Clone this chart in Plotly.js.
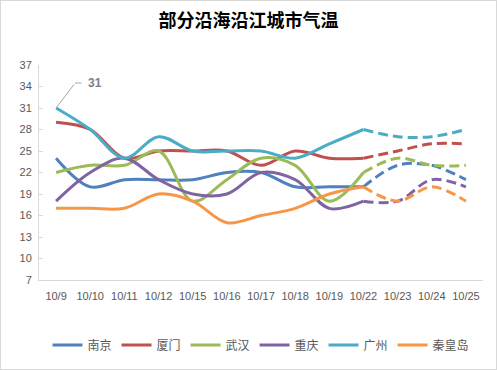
<!DOCTYPE html>
<html>
<head>
<meta charset="utf-8">
<script src="https://cdn.plot.ly/plotly-3.0.1.min.js"></script>
<style>
  html, body { margin: 0; padding: 0; background: #fff; }
  #wrap { position: relative; width: 497px; height: 370px; }
  #chart { width: 497px; height: 370px; }
  #frame { position: absolute; left: 0; top: 0; width: 495px; height: 368px; border: 1px solid #d9d9d9; pointer-events: none; }
</style>
</head>
<body>
<div id="wrap"><div id="chart"></div><div id="frame"></div></div>
<script>
const dates = ['10/9','10/10','10/11','10/12','10/15','10/16','10/17','10/18','10/19','10/22','10/23','10/24','10/25'];
const cities = ['南京','厦门','武汉','重庆','广州','秦皇岛'];
const nanjing     = [24, 20, 21, 21, 21, 22, 22, 20, 20, 20, 23, 23, 21];
const xiamen      = [29, 28, 24, 25, 25, 25, 23, 25, 24, 24, 25, 26, 26];
const wuhan       = [22, 23, 23, 25, 18, 21, 24, 23, 18, 22, 24, 23, 23];
const chongqing   = [18, 22, 24, 21, 19, 19, 22, 21, 17, 18, 18, 21, 20];
const guangzhou   = [31, 28, 24, 27, 25, 25, 25, 24, 26, 28, 27, 27, 28];
const qinhuangdao = [17, 17, 17, 19, 18, 15, 16, 17, 19, 20, 18, 20, 18];
const forecastStart = 9; // index of 10/22: dashed from here on
const yTicks = [7, 10, 13, 16, 19, 22, 25, 28, 31, 34, 37];

const series = [nanjing, xiamen, wuhan, chongqing, guangzhou, qinhuangdao];
const colors = ['#4F81BD', '#C0504D', '#9BBB59', '#8064A2', '#4BACC6', '#F79646'];

const traces = [];
series.forEach((vals, i) => {
  traces.push({
    type: 'scatter', mode: 'lines', name: cities[i],
    x: dates.slice(0, forecastStart + 1), y: vals.slice(0, forecastStart + 1),
    line: { color: colors[i], width: 3, shape: 'spline', smoothing: 1 },
    hoverinfo: 'skip', legendgroup: cities[i]
  });
});
series.forEach((vals, i) => {
  traces.push({
    type: 'scatter', mode: 'lines', name: cities[i], showlegend: false,
    x: dates.slice(forecastStart), y: vals.slice(forecastStart),
    line: { color: colors[i], width: 3, shape: 'spline', smoothing: 1, dash: '10px,5px' },
    hoverinfo: 'skip', legendgroup: cities[i]
  });
});

const layout = {
  width: 497, height: 370,
  margin: { l: 39, r: 14, t: 65, b: 89 },
  paper_bgcolor: '#fff', plot_bgcolor: '#fff',
  font: { family: '"Liberation Sans", Arial, sans-serif', color: '#595959', size: 11 },
  title: {
    text: '<b>部分沿海沿江城市气温</b>',
    font: { family: '"Noto Sans CJK SC", sans-serif', size: 18, color: '#000' },
    x: 0.5, xanchor: 'center', y: 0.945, yanchor: 'middle'
  },
  xaxis: {
    type: 'category', categoryorder: 'array', categoryarray: dates,
    range: [-0.5, dates.length - 0.5],
    showline: true, linecolor: '#d9d9d9', linewidth: 1,
    showgrid: false, zeroline: false, ticks: '',
    tickfont: { size: 11, color: '#595959' }, ticklabelstandoff: 6,
    fixedrange: true
  },
  yaxis: {
    range: [7, 37], tickvals: yTicks, ticktext: yTicks.map(String),
    showline: true, linecolor: '#d9d9d9', linewidth: 1,
    showgrid: false, zeroline: false,
    ticks: 'inside', ticklen: 4, tickcolor: '#d9d9d9',
    tickfont: { size: 11, color: '#595959' }, ticklabelstandoff: 4,
    fixedrange: true
  },
  legend: {
    orientation: 'h', x: 0.5, xanchor: 'center', y: -0.296, yanchor: 'middle',
    font: { family: '"Noto Sans CJK SC", sans-serif', size: 12, color: '#595959' },
    itemwidth: 30, tracegroupgap: 0, traceorder: 'normal'
  },
  annotations: [
    { x: dates[0], y: guangzhou[0], text: '<b>' + guangzhou[0] + '</b>', showarrow: false,
      xshift: 39, yshift: 25, font: { size: 12, color: '#7f7f7f' } },
    { x: dates[0], y: guangzhou[0], text: '', showarrow: true, arrowhead: 0, arrowwidth: 1,
      arrowcolor: '#a6a6a6', ax: 19, ay: -25, standoff: 0, startstandoff: 0 },
    { x: dates[0], y: guangzhou[0], text: '', showarrow: true, arrowhead: 0, arrowwidth: 1,
      arrowcolor: '#a6a6a6', ax: 8, ay: 0, xshift: 19, yshift: 25, standoff: 0 }
  ],
  showlegend: true
};

Plotly.newPlot('chart', traces, layout, { displayModeBar: false, staticPlot: true });
</script>
</body>
</html>
